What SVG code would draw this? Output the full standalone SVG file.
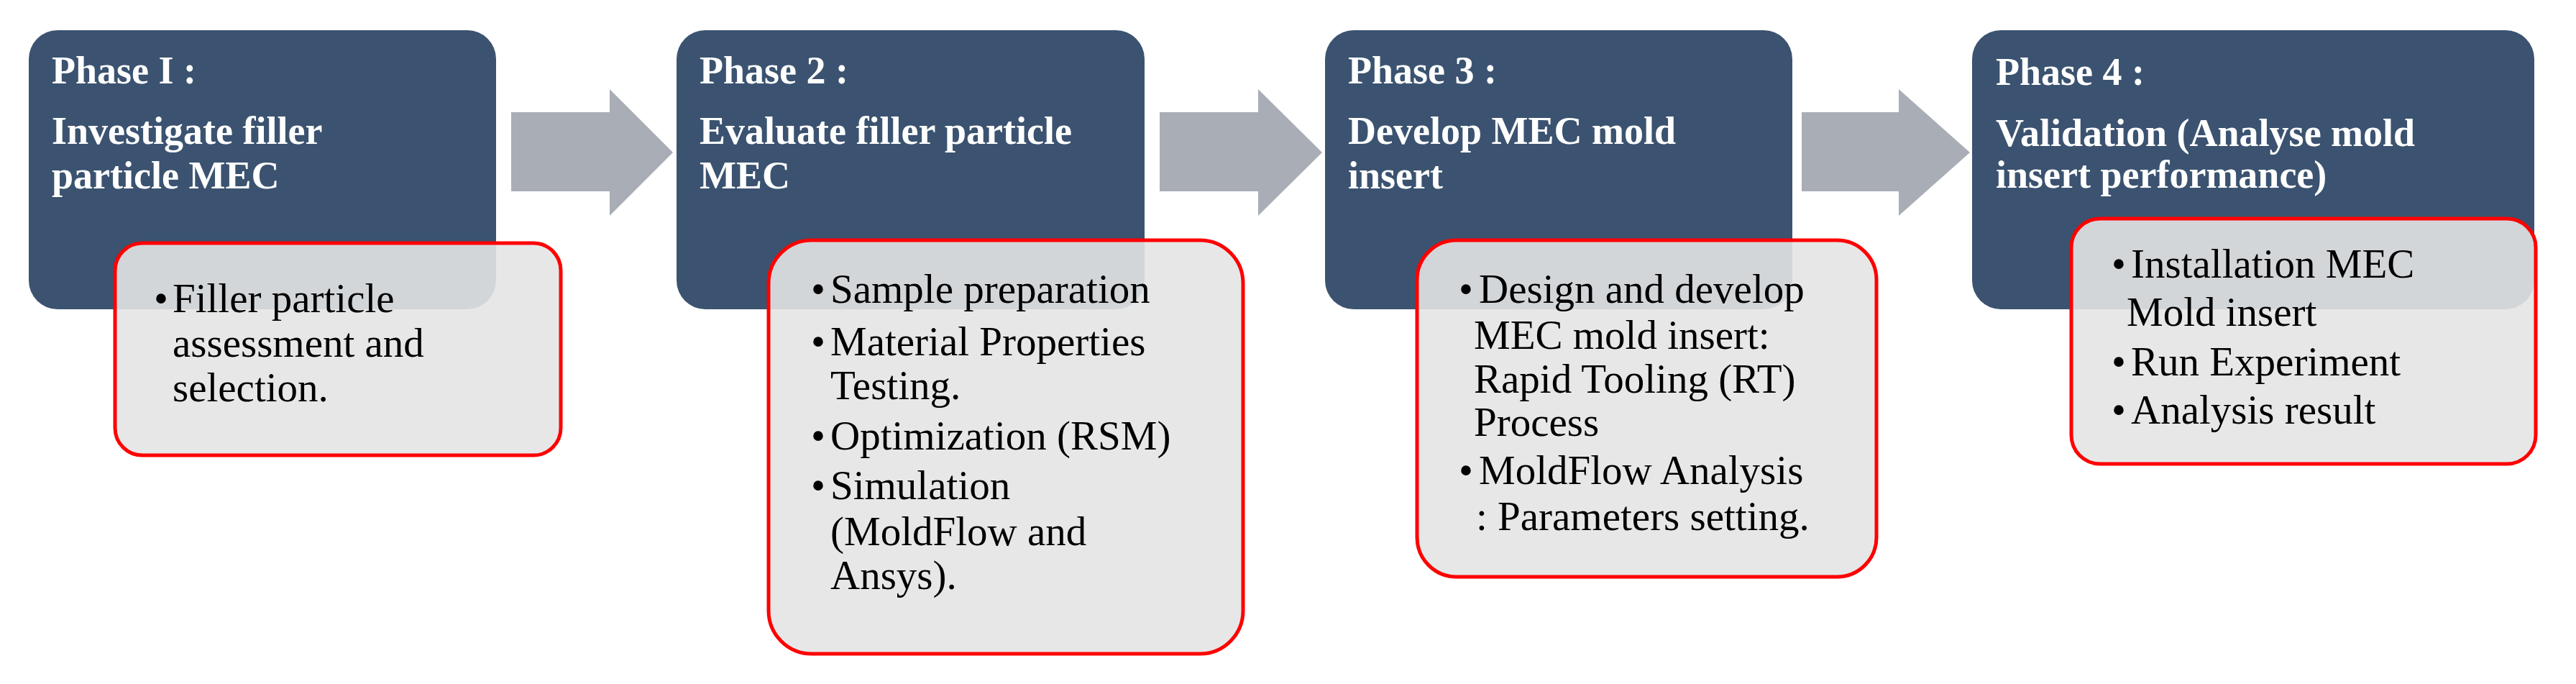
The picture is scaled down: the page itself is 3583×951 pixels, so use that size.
<svg xmlns="http://www.w3.org/2000/svg" width="3583" height="951" viewBox="0 0 3583 951">
<style>
.ph{fill:#3b5370;}
.det{fill:#e4e4e4;fill-opacity:0.9;stroke:#ff0000;stroke-width:5;}
.t{font-family:"Liberation Serif",serif;font-weight:bold;font-size:54px;fill:#ffffff;}
.b{font-family:"Liberation Serif",serif;font-size:57px;fill:#000000;}
.arr{fill:#a9adb5;}
</style>
<rect width="3583" height="951" fill="#ffffff"/>
<g id="connectors">
<polygon class="arr" points="711,156 848,156 848,124 936,212 848,300 848,266 711,266"/>
<polygon class="arr" points="1613,156 1750,156 1750,124 1839,212 1750,300 1750,266 1613,266"/>
<polygon class="arr" points="2506,156 2641,156 2641,124 2740,212 2641,300 2641,266 2506,266"/>
</g>
<g id="phase1">
<rect class="ph" x="40" y="42" width="650" height="388" rx="40"/>
<text class="t" x="72" y="116">Phase I :</text>
<text class="t" x="72" y="200">Investigate filler</text>
<text class="t" x="72" y="262">particle MEC</text>
<rect class="det" x="160" y="338" width="620" height="295" rx="38"/>
<text class="b" x="214" y="434">•<tspan x="240">Filler particle</tspan></text>
<text class="b" x="240" y="496">assessment and</text>
<text class="b" x="240" y="558">selection.</text>
</g>
<g id="phase2">
<rect class="ph" x="941" y="42" width="651" height="388" rx="40"/>
<text class="t" x="973" y="116">Phase 2 :</text>
<text class="t" x="973" y="200">Evaluate filler particle</text>
<text class="t" x="973" y="262">MEC</text>
<rect class="det" x="1069" y="334" width="660" height="575" rx="60"/>
<text class="b" x="1128" y="421">•<tspan x="1155">Sample preparation</tspan></text>
<text class="b" x="1128" y="494">•<tspan x="1155">Material Properties</tspan></text>
<text class="b" x="1155" y="555">Testing.</text>
<text class="b" x="1128" y="625">•<tspan x="1155">Optimization (RSM)</tspan></text>
<text class="b" x="1128" y="694">•<tspan x="1155">Simulation</tspan></text>
<text class="b" x="1155" y="758">(MoldFlow and</text>
<text class="b" x="1155" y="819">Ansys).</text>
</g>
<g id="phase3">
<rect class="ph" x="1843" y="42" width="650" height="388" rx="40"/>
<text class="t" x="1875" y="116">Phase 3 :</text>
<text class="t" x="1875" y="200">Develop MEC mold</text>
<text class="t" x="1875" y="262">insert</text>
<rect class="det" x="1971" y="334" width="639" height="468" rx="55"/>
<text class="b" x="2029" y="421">•<tspan x="2057">Design and develop</tspan></text>
<text class="b" x="2050" y="485">MEC mold insert:</text>
<text class="b" x="2050" y="546">Rapid Tooling (RT)</text>
<text class="b" x="2050" y="606">Process</text>
<text class="b" x="2029" y="673">•<tspan x="2057">MoldFlow Analysis</tspan></text>
<text class="b" x="2053" y="737">: Parameters setting.</text>
</g>
<g id="phase4">
<rect class="ph" x="2743" y="42" width="782" height="388" rx="40"/>
<text class="t" x="2776" y="118">Phase 4 :</text>
<text class="t" x="2776" y="203">Validation (Analyse mold</text>
<text class="t" x="2776" y="261">insert performance)</text>
<rect class="det" x="2881" y="304" width="646" height="341" rx="40"/>
<text class="b" x="2937" y="386">•<tspan x="2964">Installation MEC</tspan></text>
<text class="b" x="2958" y="453">Mold insert</text>
<text class="b" x="2937" y="522">•<tspan x="2964">Run Experiment</tspan></text>
<text class="b" x="2937" y="589">•<tspan x="2964">Analysis result</tspan></text>
</g>
</svg>
